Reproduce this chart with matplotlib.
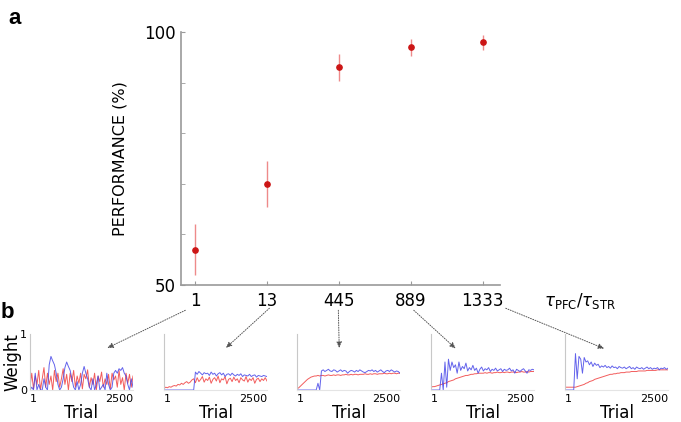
import numpy as np
import matplotlib
matplotlib.use("Agg")
import matplotlib.pyplot as plt
from matplotlib.patches import ConnectionPatch
from matplotlib import transforms

# panel a: performance vs time-constant ratio
ratio_labels = ["1", "13", "445", "889", "1333"]
perf_mean = [57.0, 70.0, 93.0, 97.0, 98.0]
perf_err = [5.0, 4.6, 2.6, 1.7, 1.5]

# panel b: example weight traces (red / blue), 60 samples over 2500 trials
red_1 = [0.05, 0.3, 0.02, 0.25, 0.1, 0.35, 0.0, 0.2, 0.4, 0.05, 0.3, 0.1, 0.25, 0.0, 0.35,
         0.15, 0.3, 0.05, 0.2, 0.38, 0.1, 0.28, 0.0, 0.3, 0.15, 0.35, 0.05, 0.25, 0.12, 0.3,
         0.02, 0.28, 0.2, 0.36, 0.05, 0.22, 0.1, 0.3, 0.0, 0.25, 0.15, 0.32, 0.05, 0.2, 0.1,
         0.28, 0.02, 0.3, 0.18, 0.25, 0.05, 0.35, 0.1, 0.22, 0.0, 0.3, 0.12, 0.28, 0.05, 0.25]
blue_1 = [0.0, 0.05, 0.0, 0.3, 0.0, 0.1, 0.0, 0.0, 0.2, 0.05, 0.0, 0.45, 0.6, 0.52, 0.45,
          0.3, 0.1, 0.0, 0.05, 0.2, 0.4, 0.5, 0.42, 0.35, 0.2, 0.05, 0.0, 0.15, 0.0, 0.1,
          0.3, 0.42, 0.3, 0.2, 0.05, 0.0, 0.2, 0.0, 0.1, 0.25, 0.0, 0.05, 0.1, 0.0, 0.3,
          0.1, 0.0, 0.05, 0.3, 0.35, 0.3, 0.38, 0.35, 0.4, 0.3, 0.25, 0.1, 0.0, 0.2, 0.05]
red_13 = [0.03, 0.05, 0.04, 0.06, 0.05, 0.07, 0.08, 0.07, 0.1, 0.09, 0.12, 0.1, 0.13, 0.15, 0.12,
          0.14, 0.18, 0.2, 0.13, 0.22, 0.15, 0.19, 0.24, 0.14, 0.2, 0.17, 0.23, 0.12, 0.19, 0.22,
          0.16, 0.25, 0.13, 0.2, 0.18, 0.24, 0.11, 0.19, 0.21, 0.15, 0.23, 0.17, 0.2, 0.13, 0.22,
          0.18, 0.16, 0.24, 0.14, 0.2, 0.17, 0.22, 0.12, 0.19, 0.21, 0.15, 0.2, 0.17, 0.22, 0.16]
blue_13 = [0.0, 0.0, 0.0, 0.0, 0.0, 0.0, 0.0, 0.0, 0.0, 0.0, 0.0, 0.0, 0.0, 0.0, 0.0,
           0.0, 0.0, 0.0, 0.32, 0.28, 0.33, 0.3, 0.27, 0.31, 0.29, 0.3, 0.26, 0.32, 0.28, 0.3,
           0.25, 0.29, 0.31, 0.27, 0.3, 0.24, 0.28, 0.29, 0.26, 0.3, 0.27, 0.25, 0.28, 0.26, 0.29,
           0.24, 0.27, 0.26, 0.25, 0.28, 0.24, 0.26, 0.27, 0.23, 0.26, 0.25, 0.24, 0.26, 0.25, 0.24]
red_445 = [0.02, 0.04, 0.07, 0.1, 0.13, 0.16, 0.19, 0.21, 0.23, 0.24, 0.25, 0.25, 0.26, 0.25, 0.26,
           0.26, 0.25, 0.26, 0.27, 0.26, 0.26, 0.27, 0.26, 0.27, 0.27, 0.26, 0.27, 0.27, 0.28, 0.27,
           0.27, 0.28, 0.27, 0.28, 0.28, 0.27, 0.28, 0.28, 0.28, 0.29, 0.28, 0.28, 0.29, 0.28, 0.29,
           0.29, 0.28, 0.29, 0.29, 0.29, 0.3, 0.29, 0.29, 0.3, 0.29, 0.3, 0.3, 0.29, 0.3, 0.3]
blue_445 = [0.0, 0.0, 0.0, 0.0, 0.0, 0.0, 0.0, 0.0, 0.0, 0.0, 0.0, 0.0, 0.12, 0.0, 0.34,
            0.36, 0.33, 0.35, 0.37, 0.34, 0.33, 0.36, 0.35, 0.32, 0.34, 0.36, 0.33, 0.35, 0.34, 0.3,
            0.33, 0.35, 0.34, 0.32, 0.35, 0.33, 0.36, 0.34, 0.32, 0.31, 0.33, 0.35, 0.34, 0.36, 0.33,
            0.35, 0.32, 0.34, 0.36, 0.33, 0.31, 0.34, 0.35, 0.33, 0.36, 0.34, 0.32, 0.34, 0.33, 0.3]
red_889 = [0.05, 0.06, 0.06, 0.07, 0.08, 0.09, 0.1, 0.11, 0.12, 0.13, 0.15, 0.16, 0.17, 0.18, 0.2,
           0.21, 0.22, 0.23, 0.24, 0.25, 0.26, 0.26, 0.27, 0.28, 0.28, 0.29, 0.29, 0.3, 0.3, 0.3,
           0.3, 0.31, 0.3, 0.31, 0.31, 0.3, 0.31, 0.31, 0.32, 0.31, 0.31, 0.32, 0.31, 0.32, 0.32,
           0.31, 0.32, 0.32, 0.32, 0.31, 0.32, 0.32, 0.33, 0.32, 0.32, 0.33, 0.32, 0.33, 0.33, 0.33]
blue_889 = [0.0, 0.0, 0.0, 0.0, 0.0, 0.0, 0.3, 0.0, 0.5, 0.05, 0.55, 0.35, 0.5, 0.4, 0.45,
            0.3, 0.5, 0.35, 0.42, 0.38, 0.48, 0.34, 0.4, 0.36, 0.44, 0.35, 0.39, 0.3, 0.37, 0.41,
            0.34, 0.38, 0.36, 0.4, 0.33, 0.37, 0.35, 0.39, 0.34, 0.36, 0.38, 0.33, 0.37, 0.35, 0.36,
            0.39, 0.34, 0.36, 0.3, 0.37, 0.35, 0.33, 0.36, 0.38, 0.34, 0.3, 0.36, 0.35, 0.37, 0.36]
red_1333 = [0.05, 0.05, 0.05, 0.05, 0.05, 0.05, 0.05, 0.06, 0.07, 0.08, 0.09, 0.1, 0.12, 0.13, 0.15,
            0.16, 0.17, 0.19, 0.2, 0.21, 0.22, 0.23, 0.24, 0.25, 0.26, 0.27, 0.28, 0.28, 0.29, 0.29,
            0.3, 0.3, 0.31, 0.31, 0.31, 0.32, 0.32, 0.32, 0.33, 0.33, 0.33, 0.33, 0.34, 0.34, 0.34,
            0.34, 0.34, 0.35, 0.35, 0.35, 0.35, 0.35, 0.35, 0.36, 0.36, 0.36, 0.36, 0.36, 0.36, 0.36]
blue_1333 = [0.0, 0.0, 0.0, 0.0, 0.0, 0.0, 0.65, 0.2, 0.6, 0.55, 0.3, 0.58, 0.5, 0.52, 0.45,
             0.5, 0.42, 0.48, 0.44, 0.46, 0.4, 0.43, 0.41, 0.44, 0.4, 0.42, 0.39, 0.43, 0.4, 0.41,
             0.38, 0.42, 0.4, 0.39, 0.41, 0.38, 0.4, 0.42, 0.38, 0.4, 0.37, 0.41, 0.39, 0.38, 0.4,
             0.37, 0.39, 0.41, 0.38, 0.4, 0.37, 0.39, 0.38, 0.4, 0.36, 0.39, 0.38, 0.4, 0.37, 0.39]

traces = [(red_1, blue_1), (red_13, blue_13), (red_445, blue_445),
          (red_889, blue_889), (red_1333, blue_1333)]
n_trials = 2500

spine_col = "#9a9a9a"
fig = plt.figure(figsize=(6.81, 4.22), dpi=100)

# ---- panel a
ax = fig.add_axes([181 / 681, 1 - 285 / 422, 319 / 681, 253 / 422])
xs = np.arange(len(ratio_labels))
ax.errorbar(xs, perf_mean, yerr=perf_err, fmt="o", ms=3.8, color="#cc1515",
            ecolor="#ee8a8a", elinewidth=1.0, capsize=0)
ax.set_xlim(-0.2, 4.24)
ax.set_ylim(50, 100)
ax.set_xticks(xs)
ax.set_xticklabels(ratio_labels, fontsize=12)
ax.set_yticks([50, 100])
ax.set_yticks([60, 70, 80, 90], minor=True)
ax.set_yticklabels(["50", "100"], fontsize=12)
ax.tick_params(axis="both", which="both", direction="in", length=3, color=spine_col, pad=5)
ax.tick_params(axis="y", which="major", pad=4)
for s in ["top", "right"]:
    ax.spines[s].set_visible(False)
for s in ["left", "bottom"]:
    ax.spines[s].set_color(spine_col)
    ax.spines[s].set_linewidth(1.2)
ax.set_ylabel("PERFORMANCE (%)", fontsize=11.5, labelpad=12)
blend = transforms.blended_transform_factory(ax.transData, ax.transAxes)
ax.text(5.35, -0.065, r"$\tau_{\mathrm{PFC}}/\tau_{\mathrm{STR}}$", transform=blend,
        fontsize=12, ha="center", va="center")

fig.text(8 / 681, 1 - 18 / 422, "a", fontsize=16, fontweight="bold",
         family="Liberation Sans", ha="left", va="center")
fig.text(1 / 681, 1 - 313 / 422, "b", fontsize=16, fontweight="bold",
         family="Liberation Sans", ha="left", va="center")
fig.text(12 / 681, 1 - 362 / 422, "Weight", fontsize=12, rotation=90,
         ha="center", va="center")

# ---- panel b
lefts = [30, 164, 297, 431, 565]
heads = [(0.75, 0.75), (0.6, 0.75), (0.41, 0.75), (0.24, 0.74), (0.38, 0.74)]
starts = [(-0.14, -0.1), (0.03, -0.092), (-0.01, -0.1), (0.04, -0.1), (0.32, -0.092)]
for i, (red, blue) in enumerate(traces):
    sax = fig.add_axes([lefts[i] / 681, 1 - 390 / 422, 103 / 681, 56 / 422])
    tx = np.linspace(1, n_trials, len(red))
    sax.plot(tx, red, color="#f04040", lw=0.7, alpha=0.85)
    sax.plot(tx, blue, color="#4848e8", lw=0.7, alpha=0.85)
    sax.set_xlim(1, n_trials)
    sax.set_ylim(0, 1)
    sax.set_xticks([1, n_trials])
    sax.set_xticklabels(["1", "2500"], fontsize=8)
    sax.get_xticklabels()[0].set_ha("left")
    sax.get_xticklabels()[1].set_ha("right")
    sax.tick_params(length=0, pad=3)
    if i == 0:
        sax.set_yticks([0, 1])
        sax.set_yticklabels(["0", "1"], fontsize=8)
        sax.tick_params(axis="y", pad=2)
    else:
        sax.set_yticks([])
    for s in ["top", "right"]:
        sax.spines[s].set_visible(False)
    sax.spines["left"].set_color("#c8c8c8")
    sax.spines["bottom"].set_color("#e4e4e4")
    sax.spines["left"].set_linewidth(0.8)
    sax.spines["bottom"].set_linewidth(0.8)
    sax.set_xlabel("Trial", fontsize=12, labelpad=0)

    con = ConnectionPatch(xyA=(i + starts[i][0], starts[i][1]), coordsA=blend,
                          xyB=heads[i], coordsB=sax.transAxes,
                          arrowstyle="-|>,head_length=0.35,head_width=0.15",
                          linestyle=(0, (1, 1.5)), color="#555555", lw=0.7,
                          mutation_scale=10, shrinkA=0, shrinkB=0)
    fig.add_artist(con)

fig.savefig("out.png", dpi=100)
